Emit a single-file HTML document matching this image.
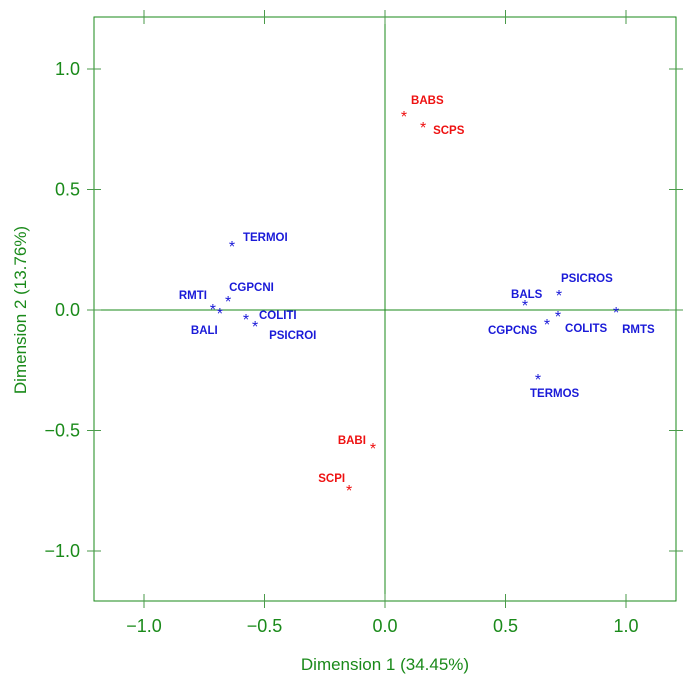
<!DOCTYPE html>
<html><head><meta charset="utf-8"><style>
html,body{margin:0;padding:0;background:#fff;}
svg{display:block;font-family:"Liberation Sans",Arial,sans-serif;}
</style></head><body>
<svg id="chart" width="691" height="678" viewBox="0 0 691 678" xmlns="http://www.w3.org/2000/svg">
<rect x="94" y="17" width="582" height="584" fill="none" stroke="#1a8a1a" stroke-width="1"/>
<g id="axes"></g>
<g id="marks"></g>
<text x="385" y="670" text-anchor="middle" font-size="17" fill="#1a8a1a">Dimension 1 (34.45%)</text>
<text transform="translate(26,310) rotate(-90)" text-anchor="middle" font-size="17" fill="#1a8a1a">Dimension 2 (13.76%)</text>
</svg>
<script>
const labels = ["TERMOI","CGPCNI","RMTI","BALI","COLITI","PSICROI","BALS","PSICROS","CGPCNS","COLITS","RMTS","TERMOS","BABS","SCPS","BABI","SCPI"];
const xVals = [-0.635,-0.651,-0.714,-0.685,-0.577,-0.539,0.581,0.722,0.672,0.718,0.959,0.635,0.079,0.158,-0.050,-0.149];
const yVals = [0.274,0.046,0.012,-0.004,-0.029,-0.058,0.029,0.071,-0.050,-0.017,0.0,-0.278,0.813,0.768,-0.564,-0.739];
const groups = ["b","b","b","b","b","b","b","b","b","b","b","b","r","r","r","r"];
const ticks = [-1.0,-0.5,0.0,0.5,1.0];
const tickLabels = ["\u22121.0","\u22120.5","0.0","0.5","1.0"];
// label layout offsets (px) and anchors
const ldx = [11,1,-6,-29,13,14,-14,2,-59,7,6,-8,7,10,-7,-4];
const ldy = [-7,-12,-12,19,-2,11,-9,-15,8,14,19,16,-14,5,-6,-10];
const lanc = ["start","start","end","start","start","start","start","start","start","start","start","start","start","start","end","end"];

const NS="http://www.w3.org/2000/svg";
const X = v => 385 + v*241;
const Y = v => 310 - v*241;
const axes=document.getElementById('axes'), marks=document.getElementById('marks');
function mk(tag,attrs,parent){const e=document.createElementNS(NS,tag);for(const k in attrs)e.setAttribute(k,attrs[k]);parent.appendChild(e);return e;}
const green="#1a8a1a", tickc="#4a9a4a";
let l=mk('line',{x1:94,x2:676,y1:Y(0),y2:Y(0),stroke:green},axes);


l=mk('line',{x1:X(0),x2:X(0),y1:17,y2:601,stroke:green},axes);


ticks.forEach((t,i)=>{
  const x=X(t), y=Y(t);
  [[x,10,x,24],[x,594,x,608]].forEach(c=>{const e=mk('line',{x1:c[0],y1:c[1],x2:c[2],y2:c[3],stroke:tickc},axes);
    
    });
  [[87,y,101,y],[669,y,683,y]].forEach(c=>{const e=mk('line',{x1:c[0],y1:c[1],x2:c[2],y2:c[3],stroke:tickc},axes);
    
    });
  let tx=mk('text',{x:x,y:632,'text-anchor':'middle','font-size':18,fill:green},axes);
  tx.textContent=tickLabels[i];
  
  
  let ty=mk('text',{x:80,y:y+6,'text-anchor':'end','font-size':18,fill:green},axes);
  ty.textContent=tickLabels[i];
  
  
});
labels.forEach((lab,i)=>{
  const px=X(xVals[i]), py=Y(yVals[i]);
  const col = groups[i]==="r" ? "#ee1111" : "#1a1ad8";
  const s=mk('text',{x:px,y:py+8,'text-anchor':'middle','font-size':16,fill:col},marks);
  s.textContent="*";
  
  
  const t=mk('text',{x:px+ldx[i],y:py+ldy[i]+4,'text-anchor':lanc[i],'font-size':11.5,'font-weight':'bold',fill:col},marks);
  t.textContent=lab;
  
  
});
</script>
</body></html>
